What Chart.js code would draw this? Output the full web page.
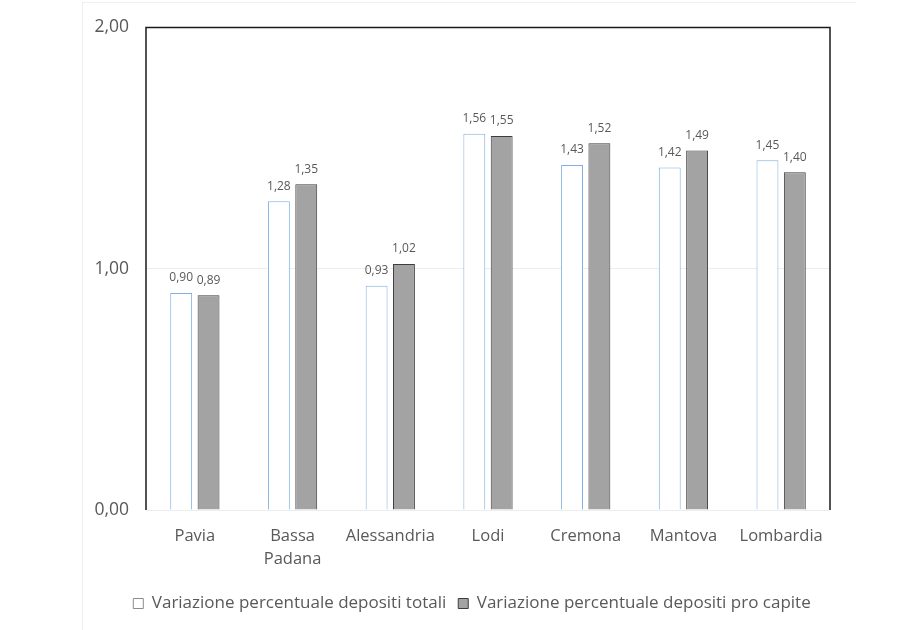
<!DOCTYPE html>
<html>
<head>
<meta charset="utf-8">
<script src="https://cdn.jsdelivr.net/npm/chart.js@4.4.1/dist/chart.umd.min.js"></script>
<style>
html,body{margin:0;padding:0;background:#fff;}
#wrap{position:relative;width:909px;height:630px;}
#frame{position:absolute;left:82px;top:2px;width:773px;height:640px;border-left:1px solid #efefef;border-top:1px solid #efefef;}
canvas{position:absolute;left:0;top:0;}
</style>
</head>
<body>
<div id="wrap"><div id="frame"></div><canvas id="c" width="909" height="630"></canvas></div>
<script>
const categories = ["Pavia", ["Bassa", "Padana"], "Alessandria", "Lodi", "Cremona", "Mantova", "Lombardia"];
const seriesNames = ["Variazione percentuale depositi totali", "Variazione percentuale depositi pro capite"];
const depositiTotali = [0.90, 1.28, 0.93, 1.56, 1.43, 1.42, 1.45];
const depositiProCapite = [0.89, 1.35, 1.02, 1.55, 1.52, 1.49, 1.40];
const yTicks = [0, 1, 2];

const fmt = v => v.toFixed(2).replace('.', ',');
const FONT = "'Open Sans', sans-serif";

const labelPlugin = {
  id: 'valueLabels',
  afterDatasetsDraw(chart) {
    const ctx = chart.ctx;
    ctx.save();
    ctx.font = "12px " + FONT;
    ctx.fillStyle = '#595959';
    ctx.textAlign = 'center';
    ctx.textBaseline = 'bottom';
    chart.data.datasets.forEach((ds, i) => {
      chart.getDatasetMeta(i).data.forEach((bar, j) => {
        ctx.fillText(fmt(ds.data[j]), bar.x, bar.y - 9);
      });
    });
    ctx.restore();
  }
};
const framePlugin = {
  id: 'frameBox',
  afterLayout(chart) {
    if (chart.legend) { chart.legend.left += 16; chart.legend.right += 16; }
  },
  afterDraw(chart) {
    const a = chart.chartArea, ctx = chart.ctx;
    ctx.save();
    ctx.strokeStyle = '#1a1a1a';
    ctx.lineWidth = 1.5;
    ctx.beginPath();
    ctx.moveTo(a.left, a.bottom);
    ctx.lineTo(a.left, a.top);
    ctx.lineTo(a.right, a.top);
    ctx.lineTo(a.right, a.bottom);
    ctx.stroke();
    ctx.restore();
  }
};

new Chart(document.getElementById('c'), {
  type: 'bar',
  data: {
    labels: categories,
    datasets: [
      { label: seriesNames[0], data: depositiTotali, backgroundColor: '#ffffff', borderColor: '#7fb0e0', borderWidth: 1 },
      { label: seriesNames[1], data: depositiProCapite, backgroundColor: '#a3a3a3', borderColor: '#3d3d3d', borderWidth: 1 }
    ]
  },
  options: {
    responsive: false,
    animation: false,
    devicePixelRatio: 1,
    layout: { padding: { left: 82, right: 79, top: 23, bottom: 8 } },
    datasets: { bar: { categoryPercentage: 0.56, barPercentage: 0.8 } },
    scales: {
      x: {
        grid: { display: false },
        border: { display: false },
        ticks: { color: '#595959', font: { family: FONT, size: 16.5, lineHeight: 1.4 }, padding: 7, maxRotation: 0, autoSkip: false },
        afterFit(s) { s.height = 73; }
      },
      y: {
        min: 0, max: 2,
        afterBuildTicks(s) { s.ticks = yTicks.map(v => ({ value: v })); },
        grid: { color: '#ededed', drawTicks: false },
        border: { display: false },
        ticks: { color: '#595959', font: { family: FONT, size: 17.5 }, padding: 17, callback: v => fmt(v) },
        afterFit(s) { s.width = 64; }
      }
    },
    plugins: {
      legend: {
        position: 'bottom',
        labels: {
          color: '#595959',
          font: { family: FONT, size: 17 },
          boxWidth: 10, boxHeight: 10, padding: 12,
          generateLabels(chart) {
            const items = Chart.defaults.plugins.legend.labels.generateLabels(chart);
            items[0].strokeStyle = '#8c8c8c';
            items.forEach(it => { it.lineWidth = 1; });
            return items;
          }
        }
      },
      tooltip: { enabled: false }
    }
  },
  plugins: [labelPlugin, framePlugin]
});
</script>
</body>
</html>
